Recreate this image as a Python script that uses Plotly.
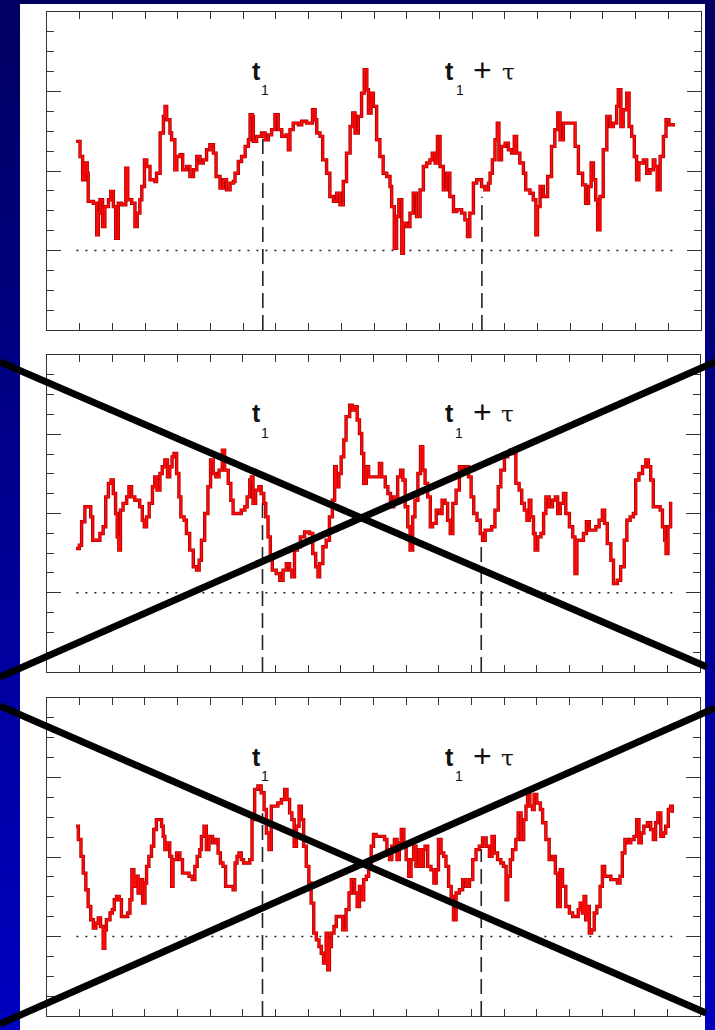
import plotly.graph_objects as go

# ---------------- data (x in time units 0..20, y in units 0..16) ----------------
x1 = [0.89,1.01,1.09,1.16,1.23,1.26,1.42,1.52,1.57,1.62,1.70,1.77,1.88,1.95,2.03,2.10,2.18,2.28,2.41,2.47,
      2.59,2.69,2.76,2.84,2.90,2.98,3.05,3.15,3.30,3.35,3.46,3.56,3.61,3.66,3.76,3.81,3.91,3.97,4.07,4.15,
      4.27,4.37,4.48,4.58,4.68,4.78,4.88,4.98,5.09,5.17,5.29,5.39,5.49,5.60,5.70,5.75,5.85,5.95,6.06,6.16,
      6.21,6.28,6.31,6.41,6.56,6.67,6.77,6.87,6.97,7.07,7.18,7.31,7.38,7.43,7.53,7.69,7.79,7.94,8.04,8.12,
      8.20,8.25,8.35,8.43,8.55,8.65,8.76,8.86,8.96,9.06,9.16,9.27,9.35,9.42,9.52,9.62,9.70,9.78,9.83,9.91,
      9.98,10.08,10.18,10.28,10.39,10.49,10.54,10.62,10.69,10.76,10.85,10.90,11.00,11.10,11.20,11.30,11.41,11.51,11.61,11.71,
      11.78,11.87,11.94,12.02,12.12,12.22,12.32,12.43,12.53,12.68,12.78,12.86,12.93,13.04,13.14,13.29,13.39,13.50,13.55,13.62,
      13.70,13.77,13.82,13.90,14.01,14.11,14.21,14.29,14.36,14.46,14.57,14.64,14.77,14.87,14.95,15.00,15.08,15.18,15.31,15.43,
      15.53,15.62,15.69,15.79,15.94,16.07,16.15,16.25,16.38,16.47,16.56,16.64,16.71,16.78,16.84,16.91,17.01,17.12,17.22,17.32,
      17.42,17.47,17.55,17.62,17.73,17.80,17.88,17.96,18.03,18.10,18.24,18.34,18.44,18.54,18.59,18.66,18.75,18.85,18.93,19.02,19.15]
y1 = [9.49,8.73,7.56,8.40,7.89,6.47,6.38,4.79,5.88,6.55,5.21,6.21,6.55,6.97,6.21,4.62,6.38,6.30,8.14,6.55,
      6.38,5.21,5.88,6.55,7.22,8.56,8.23,7.56,7.47,7.89,9.91,10.75,11.25,10.58,9.91,9.57,8.06,8.73,8.82,8.06,
      8.23,7.72,8.06,8.73,8.40,8.56,9.07,9.32,8.90,7.72,7.14,7.56,7.05,7.39,7.47,7.89,8.48,8.73,9.24,9.57,
      10.83,10.75,9.49,9.74,9.91,9.57,9.82,10.08,10.83,10.08,9.74,9.82,9.07,10.08,10.41,10.33,10.50,10.41,10.41,11.08,
      10.58,9.91,9.74,8.56,7.89,6.72,6.47,6.88,6.30,7.47,8.90,10.24,10.92,9.91,10.75,11.92,13.10,12.09,10.92,11.92,
      11.25,9.57,8.73,7.89,7.72,7.22,6.21,4.11,5.71,6.55,3.86,5.37,5.21,5.88,6.88,5.71,7.05,8.23,8.40,8.56,
      8.90,8.40,9.74,8.23,7.05,7.89,6.72,5.96,6.05,5.88,5.54,4.70,5.88,7.39,7.56,7.22,7.05,7.39,7.89,8.56,
      9.57,10.41,8.56,9.24,9.40,9.07,8.90,9.74,8.90,8.40,7.89,7.05,6.88,6.55,4.79,6.21,7.22,6.72,7.72,9.24,
      10.08,10.92,9.57,10.41,10.41,10.41,9.24,7.89,7.30,6.38,7.22,8.40,7.56,6.55,5.04,6.72,9.07,10.75,10.24,10.41,
      11.25,12.09,10.24,11.08,11.92,10.24,9.74,8.73,7.56,8.40,8.56,7.89,8.06,8.56,8.23,7.05,8.73,9.74,10.58,10.33,10.24]

x2 = [0.89,0.99,1.06,1.16,1.26,1.34,1.40,1.52,1.62,1.72,1.80,1.88,1.96,2.03,2.10,2.15,2.20,2.25,2.33,2.44,
      2.51,2.59,2.69,2.79,2.84,2.92,2.98,3.05,3.13,3.23,3.30,3.37,3.46,3.53,3.61,3.69,3.76,3.83,3.89,3.97,
      4.04,4.10,4.20,4.27,4.37,4.48,4.58,4.66,4.73,4.83,4.93,5.01,5.09,5.17,5.27,5.37,5.44,5.55,5.63,5.70,
      5.82,5.95,6.06,6.13,6.21,6.26,6.31,6.39,6.49,6.56,6.64,6.70,6.77,6.84,6.90,7.02,7.13,7.23,7.33,7.43,
      7.50,7.58,7.67,7.76,7.89,8.04,8.14,8.23,8.30,8.35,8.45,8.55,8.65,8.74,8.81,8.86,8.94,9.01,9.09,9.16,
      9.27,9.35,9.42,9.50,9.57,9.64,9.70,9.78,9.85,9.98,10.08,10.18,10.25,10.36,10.44,10.52,10.62,10.74,10.83,10.90,
      10.97,11.05,11.12,11.20,11.27,11.36,11.44,11.51,11.58,11.66,11.74,11.81,11.92,12.02,12.10,12.19,12.27,12.35,12.43,12.53,
      12.63,12.73,12.83,12.91,12.99,13.07,13.17,13.27,13.34,13.42,13.52,13.62,13.72,13.82,13.90,14.01,14.11,14.19,14.29,14.36,
      14.46,14.54,14.62,14.70,14.77,14.82,14.90,14.95,15.03,15.13,15.21,15.28,15.38,15.48,15.57,15.64,15.72,15.82,15.89,16.00,
      16.10,16.17,16.23,16.33,16.43,16.52,16.61,16.71,16.81,16.91,17.01,17.08,17.16,17.27,17.35,17.47,17.57,17.68,17.76,17.86,
      17.96,18.03,18.13,18.24,18.34,18.42,18.49,18.57,18.68,18.78,18.85,18.92,18.96,19.02,19.10,19.15]
y2 = [6.23,6.40,7.58,8.34,8.34,7.83,6.65,6.65,6.99,7.33,8.84,9.52,9.69,9.01,8.00,6.82,6.15,8.17,8.51,8.84,
      9.35,8.84,8.67,8.67,8.34,7.66,7.33,7.83,8.51,9.35,9.85,9.18,10.02,10.36,10.70,9.85,10.36,10.86,11.03,10.02,
      8.84,7.83,7.66,6.99,6.15,5.31,5.14,5.64,6.65,8.00,9.35,10.70,10.02,9.85,10.19,11.20,10.19,9.52,8.67,8.00,
      8.00,8.17,8.34,8.84,9.69,9.85,8.51,9.18,9.35,9.01,8.51,7.83,6.82,5.81,5.14,4.97,4.63,5.14,5.47,5.14,
      4.80,6.15,6.32,6.82,7.07,6.99,5.98,5.31,4.80,5.47,6.32,6.65,7.83,8.67,10.36,9.35,10.02,10.86,11.71,12.89,
      13.47,13.22,13.39,12.72,12.04,11.03,9.52,10.36,9.85,9.85,9.85,10.53,9.85,9.35,9.01,8.34,8.84,9.85,10.19,9.69,
      8.34,7.33,6.15,7.83,8.67,10.02,11.37,10.19,9.52,8.84,7.33,7.50,8.17,8.00,8.67,8.51,7.66,6.99,8.51,9.18,
      10.36,10.19,10.36,9.85,8.84,8.00,7.66,6.99,6.65,7.16,7.16,7.33,8.17,9.35,10.19,10.86,11.03,11.20,11.03,9.52,
      9.18,8.51,8.17,7.66,8.67,7.83,6.99,6.15,6.82,6.99,8.00,8.84,8.34,8.67,8.84,8.00,8.51,9.01,8.00,7.33,
      6.82,4.97,6.65,6.65,6.99,7.58,7.16,7.16,7.33,7.66,8.17,7.50,6.48,5.64,4.46,4.63,5.31,6.65,7.66,7.83,
      8.00,9.69,10.02,10.36,10.70,10.36,9.69,8.34,8.34,8.17,7.33,6.65,5.98,7.33,8.51,8.51]

x3 = [0.89,0.96,1.04,1.11,1.19,1.26,1.34,1.42,1.50,1.57,1.64,1.72,1.77,1.82,1.93,2.00,2.06,2.13,2.21,2.28,
      2.39,2.47,2.54,2.60,2.66,2.72,2.79,2.86,2.93,3.00,3.05,3.12,3.20,3.27,3.35,3.44,3.51,3.56,3.61,3.68,
      3.76,3.82,3.86,3.97,4.07,4.15,4.25,4.35,4.45,4.53,4.60,4.68,4.73,4.81,4.88,4.96,5.07,5.17,5.24,5.31,
      5.39,5.47,5.60,5.70,5.76,5.82,5.88,5.95,6.02,6.11,6.21,6.28,6.36,6.46,6.56,6.65,6.72,6.80,6.87,6.97,
      7.07,7.18,7.28,7.35,7.43,7.50,7.57,7.64,7.72,7.79,7.86,7.94,8.02,8.09,8.17,8.25,8.33,8.40,8.47,8.55,
      8.60,8.65,8.71,8.79,8.86,8.96,9.06,9.16,9.25,9.32,9.42,9.50,9.57,9.64,9.70,9.78,9.85,9.93,10.00,10.08,
      10.23,10.34,10.41,10.49,10.56,10.64,10.72,10.79,10.85,10.93,11.00,11.08,11.15,11.23,11.30,11.39,11.46,11.53,11.58,11.66,
      11.76,11.85,11.92,11.99,12.07,12.15,12.22,12.30,12.38,12.45,12.53,12.63,12.73,12.83,12.94,13.04,13.14,13.24,13.34,13.45,
      13.55,13.63,13.70,13.80,13.90,13.98,14.06,14.11,14.19,14.26,14.36,14.43,14.52,14.60,14.67,14.72,14.79,14.87,14.92,15.00,
      15.11,15.18,15.28,15.38,15.48,15.57,15.64,15.72,15.79,15.89,16.00,16.10,16.20,16.27,16.33,16.40,16.45,16.50,16.56,16.61,
      16.68,16.76,16.84,16.94,17.01,17.08,17.16,17.27,17.37,17.47,17.55,17.62,17.70,17.78,17.88,17.98,18.06,18.13,18.20,18.28,
      18.39,18.49,18.57,18.64,18.71,18.80,18.88,18.95,19.03,19.10,19.15]
y3 = [9.55,8.88,8.03,7.19,6.35,5.51,4.84,4.42,4.67,4.93,4.50,3.41,4.34,4.84,5.18,5.35,5.85,6.02,5.85,5.01,
      5.01,5.18,5.85,7.36,6.52,7.03,6.19,6.86,5.68,6.69,7.53,8.03,8.54,9.38,9.88,9.88,9.55,9.04,8.37,8.71,
      8.03,6.52,7.87,8.20,7.87,7.19,7.19,7.03,6.86,7.53,8.03,8.37,9.04,9.55,8.37,9.04,8.71,8.88,8.20,7.70,
      7.53,6.52,6.52,6.35,7.70,8.03,8.20,7.87,7.70,7.70,7.87,9.88,11.40,11.57,11.23,10.39,9.21,8.37,10.56,10.56,
      10.72,10.89,11.40,10.89,10.22,9.88,8.54,9.55,10.56,9.88,8.54,7.53,6.69,5.68,4.17,3.83,3.50,3.16,2.66,4.17,
      2.32,3.50,4.17,4.50,5.01,5.01,4.34,5.35,6.19,6.86,6.19,5.51,6.52,5.85,6.86,7.03,7.53,8.54,9.13,9.04,
      9.04,8.88,8.37,7.87,8.54,8.88,7.87,8.71,9.38,8.54,7.87,7.03,7.87,8.54,7.53,8.37,7.53,8.37,8.54,7.53,
      7.36,6.69,7.36,8.88,8.20,8.03,7.53,6.52,6.02,4.84,6.19,6.35,6.86,6.52,6.86,7.87,8.37,8.54,8.96,8.54,
      8.03,9.04,8.20,7.87,7.70,7.53,5.85,7.03,7.87,8.37,8.88,10.22,8.88,9.88,10.56,11.40,10.56,10.39,11.15,10.72,
      10.39,9.72,8.88,7.87,8.03,7.19,5.51,7.36,6.52,5.51,5.18,5.01,5.01,5.35,5.68,5.18,6.02,4.84,5.51,4.17,
      4.34,5.18,5.51,6.52,7.53,7.03,7.03,6.86,6.86,6.69,7.03,8.20,8.88,8.71,8.88,9.04,9.88,8.71,9.21,9.55,
      9.72,9.38,8.88,9.72,10.22,9.04,9.21,9.55,10.39,10.56,10.22]

series_x = [x1, x2, x3]
series_y = [y1, y2, y3]

t1 = 6.6             # time t1
t1_tau = 13.3        # time t1 + tau
dash_top_t1 = [9.9, 8.8, 10.2]      # where the dashed markers start (per panel)
dash_top_tau = [6.7, 6.65, 8.4]
baseline = 4.0
baseline_x = [0.9, 19.15]

x_range = [0, 20]
y_range = [0, 16]

# ---------------- figure ----------------
W, H = 715, 1030
fig = go.Figure()

# panel frames in pixels (left, right, top, bottom)
panels_px = [(47, 701, 12, 330), (47, 700, 355, 672), (47, 700, 698, 1016)]

def px2fx(px):
    return px / W

def px2fy(py):
    return 1 - py / H

axis_common = dict(
    range=x_range, showgrid=False, zeroline=False, showticklabels=False,
    ticks="inside", ticklen=7, tickwidth=1.2, tickcolor="#333333",
    showline=True, linecolor="#333333", linewidth=1.3, mirror="ticks",
    fixedrange=True,
)

layout_axes = {}
for i, (l, r, t, b) in enumerate(panels_px):
    k = "" if i == 0 else str(i + 1)
    layout_axes["xaxis" + k] = dict(
        axis_common, domain=[px2fx(l), px2fx(r)], anchor="y" + k, tick0=0, dtick=1,
    )
    layout_axes["yaxis" + k] = dict(
        axis_common, range=y_range, domain=[px2fy(b), px2fy(t)], anchor="x" + k,
        tick0=0, dtick=4, ticklen=14,
        minor=dict(tick0=0, dtick=1, ticks="inside", ticklen=7, tickwidth=1.2, tickcolor="#333333"),
    )

for i in range(3):
    k = "" if i == 0 else str(i + 1)
    xa, ya = "x" + k, "y" + k
    # dotted baseline
    fig.add_trace(go.Scatter(x=baseline_x, y=[baseline, baseline], mode="lines",
                             line=dict(color="#222222", width=1.5, dash="2px,7px"),
                             xaxis=xa, yaxis=ya, showlegend=False, hoverinfo="skip"))
    # dashed time markers
    fig.add_trace(go.Scatter(x=[t1, t1], y=[0, dash_top_t1[i]], mode="lines",
                             line=dict(color="#222222", width=1.6, dash="15px,7px"),
                             xaxis=xa, yaxis=ya, showlegend=False, hoverinfo="skip"))
    fig.add_trace(go.Scatter(x=[t1_tau, t1_tau], y=[0, dash_top_tau[i]], mode="lines",
                             line=dict(color="#222222", width=1.6, dash="15px,7px"),
                             xaxis=xa, yaxis=ya, showlegend=False, hoverinfo="skip"))
    # signal (dark rim + bright core), drawn as a fine staircase
    fig.add_trace(go.Scatter(x=series_x[i], y=series_y[i], mode="lines",
                             line=dict(color="#b00000", width=3.4, shape="hv"),
                             xaxis=xa, yaxis=ya, showlegend=False, hoverinfo="skip"))
    fig.add_trace(go.Scatter(x=series_x[i], y=series_y[i], mode="lines",
                             line=dict(color="#ff0a0a", width=1.8, shape="hv"),
                             xaxis=xa, yaxis=ya, showlegend=False, hoverinfo="skip"))

# labels
annotations = []
for i in range(3):
    k = "" if i == 0 else str(i + 1)
    xr, yr = "x" + k, "y" + k
    font_t = dict(family="Liberation Sans, Arial, sans-serif", size=25, color="#111111")
    font_s = dict(family="Liberation Sans, Arial, sans-serif", size=14, color="#111111")
    annotations += [
        dict(x=6.42, y=13.05, xref=xr, yref=yr, text="<b>t</b>", showarrow=False, font=font_t),
        dict(x=6.68, y=12.07, xref=xr, yref=yr, text="1", showarrow=False, font=font_s),
        dict(x=12.32, y=13.05, xref=xr, yref=yr, text="<b>t</b>", showarrow=False, font=font_t),
        dict(x=12.63, y=12.07, xref=xr, yref=yr, text="1", showarrow=False, font=font_s),
        dict(x=13.33, y=13.1, xref=xr, yref=yr, text="+", showarrow=False,
             font=dict(family="Liberation Sans, Arial, sans-serif", size=32, color="#111111")),
        dict(x=14.1, y=13.0, xref=xr, yref=yr, text="τ", showarrow=False,
             font=dict(family="DejaVu Serif, serif", size=23, color="#111111")),
    ]

# background gradient + white page + crosses
shapes = []
n = 60
c_top = (0, 0, 0x62)
c_bot = (0, 0, 0xc0)
for j in range(n):
    f = j / (n - 1)
    col = "rgb(%d,%d,%d)" % tuple(round(a + (b - a) * f) for a, b in zip(c_top, c_bot))
    shapes.append(dict(type="rect", xref="paper", yref="paper", x0=0, x1=1,
                       y0=1 - (j + 1) / n, y1=1 - j / n, fillcolor=col,
                       line=dict(width=0), layer="below"))
shapes.append(dict(type="rect", xref="paper", yref="paper", x0=px2fx(20), x1=px2fx(705),
                   y0=0, y1=px2fy(4), fillcolor="white", line=dict(width=0), layer="below"))

cross_lines = [
    ((0, 362), (707, 667)), ((0, 677), (715, 362)),
    ((0, 706), (706, 1013)), ((0, 1024), (715, 708)),
]
for (xa_, ya_), (xb_, yb_) in cross_lines:
    shapes.append(dict(type="line", xref="paper", yref="paper",
                       x0=px2fx(xa_), y0=px2fy(ya_), x1=px2fx(xb_), y1=px2fy(yb_),
                       line=dict(color="black", width=7), layer="above"))

fig.update_layout(
    width=W, height=H, margin=dict(l=0, r=0, t=0, b=0),
    paper_bgcolor="#000080", plot_bgcolor="rgba(0,0,0,0)",
    showlegend=False, shapes=shapes, annotations=annotations,
    **layout_axes,
)

fig.write_html("out.html")
